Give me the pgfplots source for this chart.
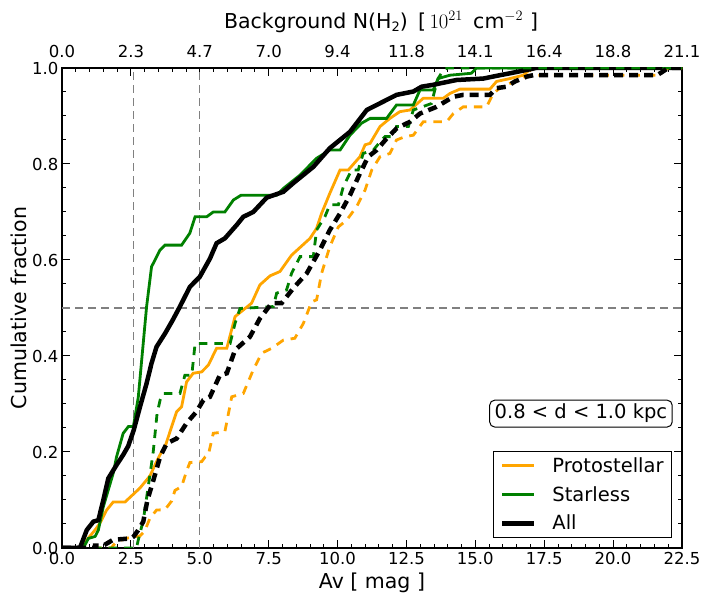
\documentclass[border=0pt]{standalone}
\usepackage{fontspec}
\setmainfont{DejaVu Sans}
\usepackage{pgfplots}
\pgfplotsset{compat=1.18}
\definecolor{mplorange}{RGB}{255,165,0}
\definecolor{mplgreen}{RGB}{0,128,0}
\definecolor{mplgray}{RGB}{128,128,128}
\newcommand{\tickfont}{\fontsize{16.5bp}{19bp}\selectfont}
\newcommand{\labfont}{\fontsize{20.5bp}{24bp}\selectfont}
\newcommand{\legfont}{\fontsize{19.5bp}{22bp}\selectfont}
\begin{document}
\begin{tikzpicture}
\useasboundingbox (0,0) rectangle (710bp,603bp);
\pgfplotsset{
  mystyle/.style={
    at={(62bp,55bp)}, anchor=south west,
    scale only axis, width=620bp, height=480bp,
    xmin=0, xmax=22.5, ymin=0, ymax=1,
    xtick={0,2.5,5,7.5,10,12.5,15,17.5,20,22.5},
    minor x tick num=4, minor y tick num=3,
    tick align=inside,
    major tick length=8bp, minor tick length=4bp,
    every tick/.style={black, line width=1bp},
    axis line style={line width=1.5bp},
    /pgf/number format/assume math mode=true,
    ticklabel style={font=\tickfont},
  }
}
% top axis
\begin{axis}[mystyle,
  xticklabel pos=upper,
  xticklabels={0.0,2.3,4.7,7.0,9.4,11.8,14.1,16.4,18.8,21.1},
  ytick=\empty,
  xticklabel style={yshift=7bp},
  xlabel={Background N(H\raisebox{-0.3ex}{\fontsize{13bp}{13bp}\selectfont 2})\,\,\,[\,$10^{21}$\,\,\,cm$^{-2}$\,\,]},
  xlabel style={font=\labfont, at={(axis description cs:0.5,1.096)}, anchor=center, xshift=9bp},
]
\end{axis}
% main axis
\begin{axis}[mystyle,
  xticklabels={0.0,2.5,5.0,7.5,10.0,12.5,15.0,17.5,20.0,22.5},
  ytick={0,0.2,0.4,0.6,0.8,1.0},
  yticklabels={0.0,0.2,0.4,0.6,0.8,1.0},
  xticklabel style={yshift=-1bp},
  xlabel={Av [ mag ]},
  ylabel={Cumulative fraction},
  xlabel style={font=\labfont, at={(axis description cs:0.5,-0.073)}, anchor=center},
  ylabel style={font=\labfont, at={(axis description cs:-0.069,0.5)}, anchor=center, rotate=0},
  legend style={at={(0.984,0.021)}, anchor=south east, draw=black, line width=1bp,
    font=\legfont, inner xsep=6bp, inner ysep=4bp, row sep=8.5bp,
    /tikz/every odd column/.append style={column sep=14bp}},
  legend cell align=left,
  legend image code/.code={\draw[#1, solid] (0bp,0bp) -- (32bp,0bp);},
]
% reference lines
\addplot[forget plot, mplgray, line width=1.3bp, dash pattern=on 8bp off 5bp] coordinates {(2.6,0) (2.6,1)};
\addplot[forget plot, mplgray, line width=1.3bp, dash pattern=on 8bp off 5bp] coordinates {(5.0,0) (5.0,1)};
\addplot[forget plot, mplgray, line width=1.3bp, dash pattern=on 8bp off 5bp] coordinates {(0,0.5) (22.5,0.5)};

% Protostellar (solid)
\addplot[mplorange, line width=2.8bp] coordinates {
(0,0) (0.77,0) (0.9,0.017) (1.2,0.0375) (1.38,0.052) (1.62,0.079) (1.86,0.096) (2.29,0.096)
(2.83,0.125) (3.19,0.15) (3.43,0.18) (3.61,0.2) (3.74,0.211) (3.98,0.253) (4.16,0.284) (4.34,0.294)
(4.52,0.346) (4.76,0.364) (5.07,0.367) (5.31,0.381) (5.61,0.416) (5.98,0.416) (6.28,0.482)
(6.58,0.496) (6.88,0.51) (7.18,0.548) (7.55,0.567) (7.91,0.576) (8.33,0.61) (9.0,0.645)
(9.24,0.666) (9.42,0.697) (9.72,0.739) (10.09,0.7875) (10.39,0.7875) (10.81,0.815) (11.0,0.84)
(11.18,0.843) (11.54,0.878) (11.9,0.895) (12.26,0.909) (12.63,0.9125) (13.11,0.937) (13.84,0.937)
(14.08,0.947) (14.44,0.956) (15.53,0.956) (15.77,0.972) (16.26,0.978) (16.74,0.985) (16.92,0.994)
(17.2,1.0) (22.5,1.0)};
\addlegendentry{Protostellar}

% Starless (solid)
\addplot[mplgreen, line width=2.8bp] coordinates {
(0,0) (0.77,0) (0.96,0.02) (1.2,0.024) (1.32,0.0375) (1.5,0.086) (1.86,0.156) (1.98,0.19)
(2.22,0.239) (2.41,0.253) (2.59,0.253) (2.77,0.315) (3.07,0.503) (3.25,0.586) (3.56,0.621)
(3.74,0.631) (4.34,0.631) (4.64,0.656) (4.83,0.69) (5.25,0.69) (5.49,0.70) (5.91,0.70)
(6.22,0.725) (6.5,0.735) (7.79,0.735) (8.03,0.749) (8.64,0.777) (9.24,0.812) (9.72,0.829)
(10.09,0.829) (10.45,0.86) (10.87,0.885) (11.18,0.895) (11.78,0.895) (12.14,0.923) (12.75,0.923)
(12.99,0.954) (13.47,0.954) (13.65,0.978) (14.08,0.985) (14.86,0.989) (15.04,1.0) (22.5,1.0)};
\addlegendentry{Starless}

% All (solid)
\addplot[black, line width=4.5bp] coordinates {
(0,0) (0.65,0) (0.9,0.0375) (1.14,0.055) (1.32,0.058) (1.5,0.1) (1.68,0.145) (1.98,0.173)
(2.22,0.194) (2.4,0.212) (2.6,0.245) (2.83,0.294) (3.07,0.343) (3.25,0.385) (3.43,0.419)
(3.74,0.447) (4.0,0.473) (4.28,0.503) (4.64,0.544) (5.0,0.565) (5.37,0.603) (5.61,0.635)
(5.91,0.645) (6.34,0.673) (6.58,0.69) (6.94,0.70) (7.43,0.73) (8.03,0.742) (8.39,0.76)
(9.12,0.794) (9.72,0.833) (10.45,0.867) (11.06,0.9125) (11.66,0.93) (12.14,0.944) (12.75,0.951)
(13.05,0.961) (13.47,0.965) (14.32,0.975) (15.29,0.978) (15.89,0.985) (16.26,0.989) (16.86,0.996)
(17.2,1.0) (22.5,1.0)};
\addlegendentry{All}

% Protostellar (dashed)
\addplot[forget plot, mplorange, line width=2.8bp, dash pattern=on 8.5bp off 7bp] coordinates {
(0,0) (1.8,0) (1.85,0.005) (2.0,0.013) (2.3,0.02) (2.83,0.025) (3.0,0.035) (3.19,0.062)
(3.43,0.079) (3.74,0.08) (3.98,0.098) (4.10,0.12) (4.34,0.128) (4.52,0.16) (4.64,0.178)
(5.07,0.18) (5.2,0.19) (5.31,0.194) (5.49,0.239) (5.91,0.242) (6.16,0.315) (6.58,0.322)
(6.94,0.371) (7.25,0.406) (7.61,0.416) (8.03,0.433) (8.45,0.437) (8.76,0.468) (9.06,0.513)
(9.24,0.517) (9.42,0.572) (9.72,0.628) (10.03,0.669) (10.33,0.683) (10.69,0.711) (11.0,0.746)
(11.24,0.7875) (11.54,0.815) (11.90,0.822) (12.14,0.85) (12.45,0.857) (12.75,0.86) (13.11,0.888)
(13.96,0.888) (14.2,0.905) (14.56,0.919) (15.41,0.919) (15.65,0.947) (15.89,0.958) (16.26,0.968)
(16.92,0.985) (21.6,0.985) (22.0,1.0) (22.5,1.0)};

% Starless (dashed)
\addplot[forget plot, mplgreen, line width=2.8bp, dash pattern=on 8.5bp off 7bp] coordinates {
(0,0) (2.7,0) (2.77,0.017) (2.95,0.058) (3.13,0.128) (3.31,0.2) (3.45,0.28) (3.56,0.308)
(3.67,0.322) (4.28,0.322) (4.46,0.36) (4.71,0.36) (4.83,0.426) (6.10,0.426) (6.28,0.468)
(6.46,0.499) (7.67,0.503) (7.79,0.531) (8.15,0.5375) (8.33,0.572) (8.64,0.607) (9.12,0.607)
(9.24,0.6625) (9.54,0.69) (9.72,0.715) (10.03,0.715) (10.21,0.753) (10.51,0.7875) (10.75,0.7875)
(10.93,0.822) (11.30,0.829) (11.54,0.846) (11.72,0.857) (12.02,0.857) (12.14,0.878) (12.57,0.878)
(12.75,0.9125) (13.41,0.926) (13.53,0.954) (13.65,0.978) (13.84,0.996) (14.0,1.0) (22.5,1.0)};

% All (dashed)
\addplot[forget plot, black, line width=4.5bp, dash pattern=on 9bp off 6bp] coordinates {
(0,0) (1.2,0) (1.2,0.005) (1.5,0.005) (1.85,0.017) (2.5,0.02) (2.6,0.024) (2.75,0.036)
(2.95,0.055) (3.1,0.1) (3.31,0.14) (3.56,0.19) (3.8,0.218) (4.16,0.228) (4.52,0.26)
(4.88,0.284) (5.13,0.308) (5.37,0.315) (5.73,0.36) (5.98,0.364) (6.28,0.4125) (6.82,0.44)
(7.18,0.478) (7.61,0.51) (7.97,0.51) (8.39,0.541) (8.88,0.572) (9.36,0.621) (9.72,0.6625)
(10.09,0.697) (10.45,0.735) (10.81,0.78) (11.11,0.815) (11.42,0.829) (11.78,0.853) (12.14,0.874)
(12.63,0.888) (12.99,0.905) (13.59,0.919) (14.2,0.94) (14.56,0.944) (15.53,0.944) (15.77,0.958)
(16.13,0.961) (16.44,0.972) (16.86,0.982) (17.1,0.985) (21.6,0.985) (22.0,1.0) (22.5,1.0)};

\node[draw=black, line width=1bp, rounded corners=5bp, fill=white, font=\legfont,
  inner xsep=5bp, inner ysep=4bp] at (rel axis cs:0.837,0.28) {0.8 < d < 1.0 kpc};
\end{axis}
\end{tikzpicture}
\end{document}
